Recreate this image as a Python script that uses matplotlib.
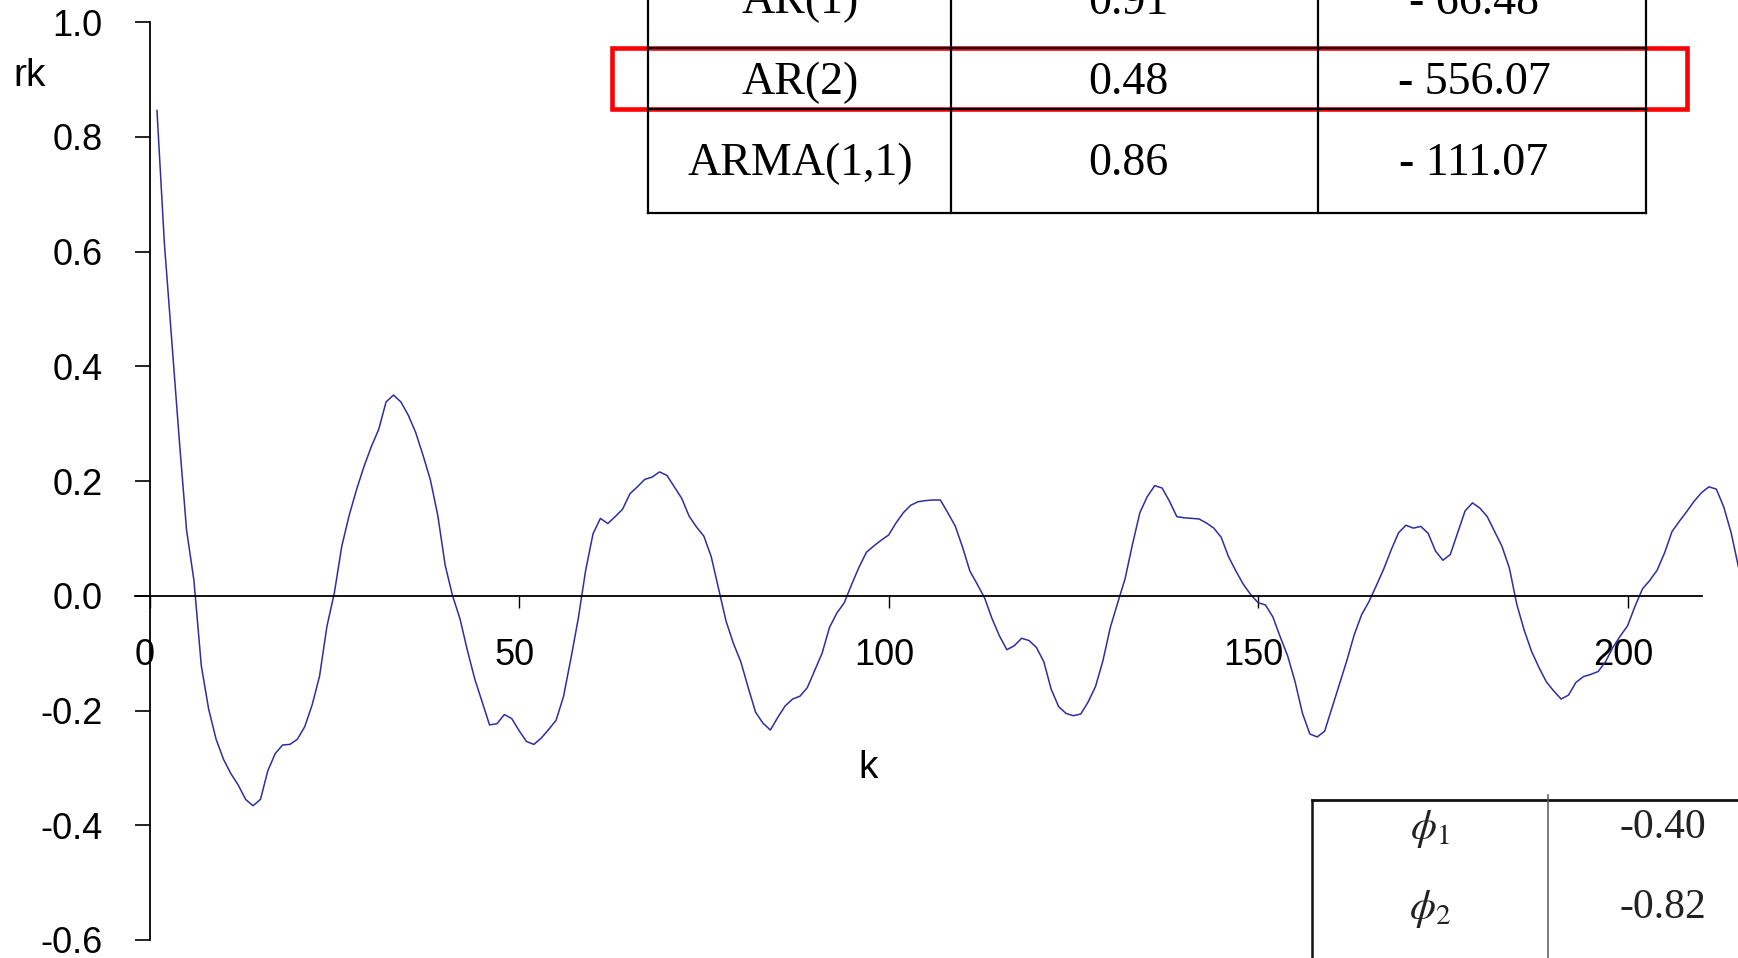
import numpy as np
import matplotlib
matplotlib.use("Agg")
import matplotlib.pyplot as plt
import matplotlib.transforms as mtransforms
from matplotlib.lines import Line2D
from matplotlib.patches import Rectangle

plt.rcParams['axes.unicode_minus'] = False
plt.rcParams['mathtext.fontset'] = 'stix'

# ---------------- data ----------------
rk = [0.846, 0.615, 0.445, 0.275, 0.115, 0.027, -0.122, -0.198, -0.25, -0.285,
      -0.31, -0.33, -0.355, -0.366, -0.355, -0.305, -0.275, -0.26, -0.259, -0.25,
      -0.228, -0.19, -0.14, -0.053, 0.005, 0.086, 0.14, 0.185, 0.225, 0.26,
      0.29, 0.338, 0.35, 0.338, 0.315, 0.285, 0.245, 0.202, 0.14, 0.053,
      0.0, -0.04, -0.095, -0.145, -0.185, -0.225, -0.223, -0.207, -0.214, -0.235,
      -0.254, -0.259, -0.248, -0.233, -0.217, -0.176, -0.11, -0.04, 0.044, 0.108,
      0.135, 0.126, 0.138, 0.151, 0.178, 0.19, 0.203, 0.207, 0.216, 0.21,
      0.19, 0.17, 0.139, 0.12, 0.104, 0.068, 0.012, -0.044, -0.083, -0.115,
      -0.16, -0.203, -0.222, -0.234, -0.212, -0.192, -0.18, -0.175, -0.16, -0.13,
      -0.1, -0.055, -0.03, -0.012, 0.02, 0.05, 0.076, 0.087, 0.097, 0.106,
      0.127, 0.145, 0.158, 0.164, 0.166, 0.167, 0.167, 0.145, 0.122, 0.085,
      0.043, 0.02, -0.004, -0.04, -0.07, -0.094, -0.087, -0.074, -0.078, -0.09,
      -0.115, -0.163, -0.193, -0.205, -0.209, -0.206, -0.185, -0.158, -0.113, -0.055,
      -0.012, 0.03, 0.09, 0.145, 0.173, 0.192, 0.188, 0.165, 0.138, 0.136,
      0.135, 0.134, 0.127, 0.118, 0.102, 0.068, 0.043, 0.02, 0.002, -0.012,
      -0.016, -0.037, -0.072, -0.105, -0.15, -0.205, -0.241, -0.246, -0.236, -0.195,
      -0.154, -0.113, -0.068, -0.033, -0.01, 0.018, 0.047, 0.08, 0.11, 0.123,
      0.118, 0.121, 0.109, 0.078, 0.062, 0.072, 0.11, 0.148, 0.162, 0.153,
      0.138, 0.112, 0.086, 0.048, -0.015, -0.06, -0.097, -0.125, -0.15, -0.166,
      -0.18, -0.173, -0.151, -0.141, -0.137, -0.132, -0.115, -0.09, -0.07, -0.052,
      -0.018, 0.012, 0.027, 0.045, 0.075, 0.112, 0.13, 0.147, 0.165, 0.18,
      0.19, 0.186, 0.155, 0.11, 0.05]
lags = list(range(1, len(rk) + 1))

x_ticks = [0, 50, 100, 150, 200]
y_ticks = [-0.6, -0.4, -0.2, 0.0, 0.2, 0.4, 0.6, 0.8, 1.0]
y_tick_labels = ['-0.6', '-0.4', '-0.2', '0.0', '0.2', '0.4', '0.6', '0.8', '1.0']

models = ['AR(1)', 'AR(2)', 'ARMA(1,1)']
col2_vals = ['0.91', '0.48', '0.86']
col3_vals = ['- 66.48', '- 556.07', '- 111.07']
param_names = [r'$\phi_1$', r'$\phi_2$']
param_vals = ['-0.40', '-0.82']

# ---------------- figure ----------------
W, H = 1738, 958
fig = plt.figure(figsize=(W / 100, H / 100), dpi=100)
fig.patch.set_facecolor('white')
ax = fig.add_axes([0, 0, 1, 1])
ax.patch.set_alpha(0)

ax.plot(lags, rk, color='#2e2e9e', lw=1.1)

ax.set_xlim(-20.24, 214.93)
ax.set_ylim(-0.6314, 1.0387)

for s in ['top', 'right']:
    ax.spines[s].set_visible(False)
ax.spines['left'].set_position(('data', 0))
ax.spines['left'].set_bounds(-0.6, 1.0)
ax.spines['bottom'].set_position(('data', 0))
ax.spines['bottom'].set_bounds(-1.95, 210)
for s in ['left', 'bottom']:
    ax.spines[s].set_linewidth(1.3)
    ax.spines[s].set_color('black')

ax.set_xticks(x_ticks)
ax.set_xticklabels([str(t) for t in x_ticks])
ax.set_yticks(y_ticks)
ax.set_yticklabels(y_tick_labels)
ax.tick_params(axis='y', direction='out', length=10.8, width=1.2, pad=23,
               labelsize=26)
ax.tick_params(axis='x', direction='out', length=8.6, width=1.0, pad=21.5,
               labelsize=26)
shift = mtransforms.ScaledTranslation(-4.5 / 100, 0, fig.dpi_scale_trans)
for lab in ax.get_xticklabels():
    lab.set_fontfamily('Liberation Sans')
    lab.set_transform(lab.get_transform() + shift)
for lab in ax.get_yticklabels():
    lab.set_fontfamily('Liberation Sans')

def fx(x):
    return x / W

def fy(y):
    return 1 - y / H

fig.text(fx(30), fy(75.5), 'rk', fontsize=28, family='Liberation Sans',
         ha='center', va='center')
fig.text(fx(868), fy(768.5), 'k', fontsize=28, family='Liberation Sans',
         ha='center', va='center')

# ---------------- top table (cropped) ----------------
tl = dict(color='black', lw=1.6, transform=fig.transFigure)
col_x = [648, 951, 1318, 1646]
for x in col_x:
    fig.add_artist(Line2D([fx(x), fx(x)], [fy(-20), fy(212.8)], **tl))
for y in [47.7, 108.6, 212.8]:
    fig.add_artist(Line2D([fx(648), fx(1646)], [fy(y), fy(y)], **tl))

row_y = [2.3, 83.1, 164.0]
cx = [800, 1128, 1474]
for i in range(3):
    for j, txt in enumerate([models[i], col2_vals[i], col3_vals[i]]):
        fig.text(fx(cx[j]), fy(row_y[i]), txt, fontsize=33,
                 family='Liberation Serif', ha='center', va='center')

fig.add_artist(Rectangle((fx(612), fy(108.6)), fx(1687) - fx(612),
                         fy(47.7) - fy(108.6), transform=fig.transFigure,
                         fill=False, edgecolor='#ff0000', lw=3.3))

# ---------------- bottom-right table (cropped) ----------------
fig.add_artist(Line2D([fx(1312), fx(1760)], [fy(800), fy(800)],
                      color='#111111', lw=2.0, transform=fig.transFigure))
fig.add_artist(Line2D([fx(1312), fx(1312)], [fy(800), fy(980)],
                      color='#111111', lw=1.8, transform=fig.transFigure))
fig.add_artist(Line2D([fx(1548), fx(1548)], [fy(795), fy(980)],
                      color='#555555', lw=1.1, transform=fig.transFigure))
p_y = [829.5, 909.5]
v_y = [827.5, 907.5]
for i in range(2):
    fig.text(fx(1430), fy(p_y[i]), param_names[i], fontsize=30,
             ha='center', va='center', color='#222222')
    fig.text(fx(1663), fy(v_y[i]), param_vals[i], fontsize=30,
             family='Liberation Serif', ha='center', va='center',
             color='#222222')

fig.savefig('out.png', dpi=100)
